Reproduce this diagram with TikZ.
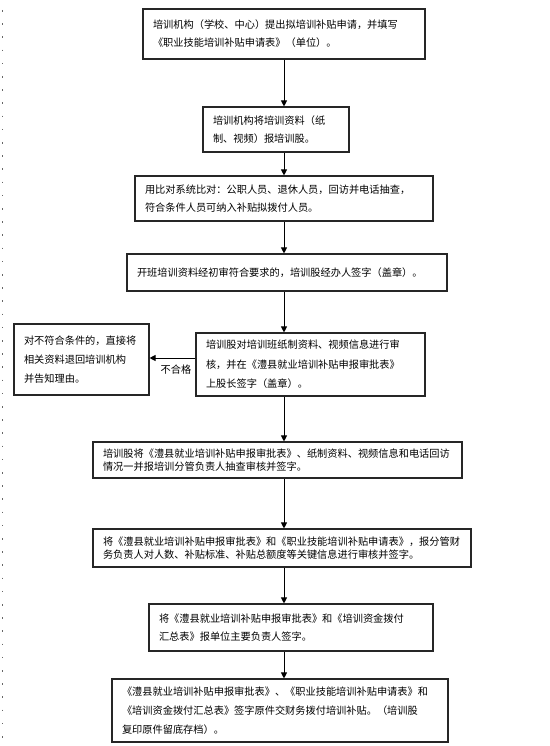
\documentclass[tikz,border=0pt]{standalone}
\usepackage{fontspec}
\setmainfont{Noto Sans CJK SC}
\XeTeXlinebreaklocale "zh"
\usetikzlibrary{arrows.meta}

\tikzset{
  stepbox/.style={draw=black!85, line width=1.1pt, inner xsep=10pt, inner ysep=0pt,
    align=left, font=\fontsize{10.2}{18}\selectfont},
  flow/.style={-{Triangle[length=6pt,width=6pt]}, line width=0.9pt},
}

\begin{document}
\begin{tikzpicture}[x=1pt,y=-1pt]
    \useasboundingbox (0,0) rectangle (549,746);

    % Margin marks
    \draw[black!60, line width=1.6pt, dash pattern=on 1.6pt off 11.6pt] (2.5,10) -- (2.5,746);

    % Main column
    \coordinate (spine) at (284,0);

    % Steps
    \node[stepbox, text width=262pt, minimum height=50pt] (b1) at (284,34)
        {培训机构（学校、中心）提出拟培训补贴申请，并填写\\《职业技能培训补贴申请表》（单位）。};
    \node[stepbox, text width=126pt, minimum height=45pt] (b2) at (276,129.5)
        {培训机构将培训资料（纸\\制、视频）报培训股。};
    \node[stepbox, text width=278pt, minimum height=45pt] (b3) at (284,198.5)
        {用比对系统比对：公职人员、退休人员，回访并电话抽查，\\符合条件人员可纳入补贴拟拨付人员。};
    \node[stepbox, text width=300pt, minimum height=37pt] (b4) at (287,272.5)
        {开班培训资料经初审符合要求的，培训股经办人签字（盖章）。};
    \node[stepbox, text width=209pt, minimum height=63pt,
          font=\fontsize{10.2}{19.5}\selectfont] (b5) at (310.5,364.5)
        {培训股对培训班纸制资料、视频信息进行审\\核，并在《澧县就业培训补贴申报审批表》\\上股长签字（盖章）。};
    \node[stepbox, text width=349pt, minimum height=36pt,
          font=\fontsize{10.2}{13.5}\selectfont] (b6) at (277.5,460)
        {培训股将《澧县就业培训补贴申报审批表》、纸制资料、视频信息和电话回访\\情况一并报培训分管负责人抽查审核并签字。};
    \node[stepbox, text width=358pt, minimum height=38pt,
          font=\fontsize{10.2}{13.5}\selectfont] (b7) at (282,548)
        {将《澧县就业培训补贴申报审批表》和《职业技能培训补贴申请表》，报分管财\\务负责人对人数、补贴标准、补贴总额度等关键信息进行审核并签字。};
    \node[stepbox, text width=264pt, minimum height=47pt] (b8) at (291,627.5)
        {将《澧县就业培训补贴申报审批表》和《培训资金拨付\\汇总表》报单位主要负责人签字。};
    \node[stepbox, text width=316pt, minimum height=63pt,
          font=\fontsize{10.2}{19}\selectfont] (b9) at (280,710.5)
        {《澧县就业培训补贴申报审批表》、《职业技能培训补贴申请表》和\\《培训资金拨付汇总表》签字原件交财务拨付培训补贴。（培训股\\复印原件留底存档）。};

    % Rejected branch
    \node[stepbox, text width=115pt, minimum height=71pt,
          font=\fontsize{10.2}{19}\selectfont] (rej) at (81.5,359.5)
        {对不符合条件的，直接将\\相关资料退回培训机构\\并告知理由。};
    \coordinate (ng) at ([yshift=6.5pt]b5.west);
    \draw[flow] (ng) -- (rej.east |- ng);
    \node[font=\fontsize{10.2}{12}\selectfont, inner sep=0pt] (nglab) at (176,370) {不合格};

    % Arrows
    \draw[flow] (b1.south -| spine) -- (b2.north -| spine);
    \draw[flow] (b2.south -| spine) -- (b3.north -| spine);
    \draw[flow] (b3.south -| spine) -- (b4.north -| spine);
    \draw[flow] (b4.south -| spine) -- (b5.north -| spine);
    \draw[flow] (b5.south -| spine) -- (b6.north -| spine);
    \draw[flow] (b6.south -| spine) -- (b7.north -| spine);
    \draw[flow] (b7.south -| spine) -- (b8.north -| spine);
    \draw[flow] (b8.south -| spine) -- (b9.north -| spine);
\end{tikzpicture}
\end{document}
